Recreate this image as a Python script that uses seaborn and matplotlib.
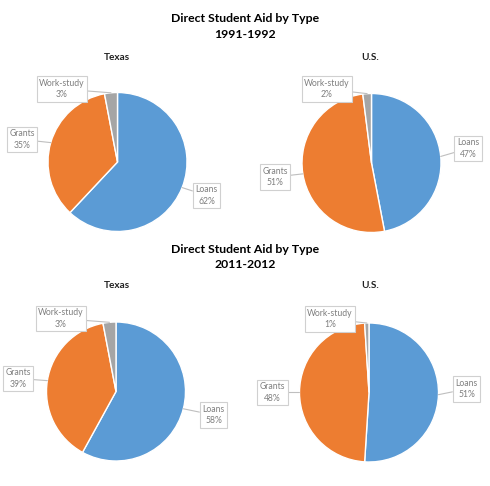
import numpy as np
import matplotlib
matplotlib.use("Agg")
import matplotlib.pyplot as plt
import seaborn as sns

sns.set_theme(style="white")
plt.rcParams['font.family'] = ['Lato', 'DejaVu Sans']

# Data
aid_types = ["Loans", "Grants", "Work-study"]
texas_1991 = [62, 35, 3]
us_1991 = [47, 51, 2]
texas_2011 = [58, 39, 3]
us_2011 = [51, 48, 1]
period_titles = ["1991-1992", "2011-2012"]
region_titles = ["Texas", "U.S."]

colors = ["#5B9BD5", "#ED7D31", "#A5A5A5"]

W, H = 490, 486
R = 69.5  # pie radius in pixels
S = 200   # axes box size in pixels

# pie centres (px) and label box centres (px) per chart
charts = [
    (texas_1991, (117.5, 162), {"Work-study": (62, 89), "Grants": (22, 139.5), "Loans": (206.5, 195.5)}),
    (us_1991, (371.5, 163), {"Work-study": (327, 89), "Grants": (275, 177), "Loans": (468, 148.5)}),
    (texas_2011, (116, 391.5), {"Work-study": (61, 318.5), "Grants": (18, 378.5), "Loans": (213.5, 415)}),
    (us_2011, (369, 392.5), {"Work-study": (330, 319), "Grants": (272.5, 392.5), "Loans": (466.5, 389)}),
]

fig = plt.figure(figsize=(W / 100, H / 100), dpi=100)

for values, (cx, cy), label_pos in charts:
    ax = fig.add_axes([(cx - S / 2) / W, (H - cy - S / 2) / H, S / W, S / H])
    ax.patch.set_alpha(0)
    wedges, _ = ax.pie(values, colors=colors, startangle=90, counterclock=False,
                       radius=1, wedgeprops=dict(edgecolor="white", linewidth=1))
    lim = S / 2 / R
    ax.set_xlim(-lim, lim)
    ax.set_ylim(-lim, lim)
    ax.set_aspect("equal")
    ax.axis("off")
    for w, name, v in zip(wedges, aid_types, values):
        ang = np.deg2rad((w.theta1 + w.theta2) / 2)
        edge = (np.cos(ang), np.sin(ang))
        px, py = label_pos[name]
        txt = ((px - cx) / R, -(py - cy) / R)
        ax.annotate(f"{name}\n{v}%", xy=edge, xytext=txt, ha="center", va="center",
                    fontsize=6.2, color="#7F7F7F", linespacing=1.3,
                    bbox=dict(boxstyle="square,pad=0.3", fc="white", ec="#D0D0D0", lw=0.8),
                    arrowprops=dict(arrowstyle="-", color="#BFBFBF", lw=0.8, shrinkA=0, shrinkB=0),
                    annotation_clip=False)

# titles
for period, ty, sy in zip(period_titles, [19, 249], [57, 286]):
    fig.text(245 / W, 1 - ty / H, "Direct Student Aid by Type", ha="center", va="center",
             fontsize=8.8, fontweight="bold", color="black")
    fig.text(245 / W, 1 - (ty + 15) / H, period, ha="center", va="center",
             fontsize=8.8, fontweight="bold", color="black")
    fig.text(117 / W, 1 - sy / H, region_titles[0], ha="center", va="center",
             fontsize=7.2, fontweight="bold", color="#222222")
    fig.text(370 / W, 1 - sy / H, region_titles[1], ha="center", va="center",
             fontsize=7.2, fontweight="bold", color="#222222")

fig.savefig("out.png", dpi=100, facecolor="white")
